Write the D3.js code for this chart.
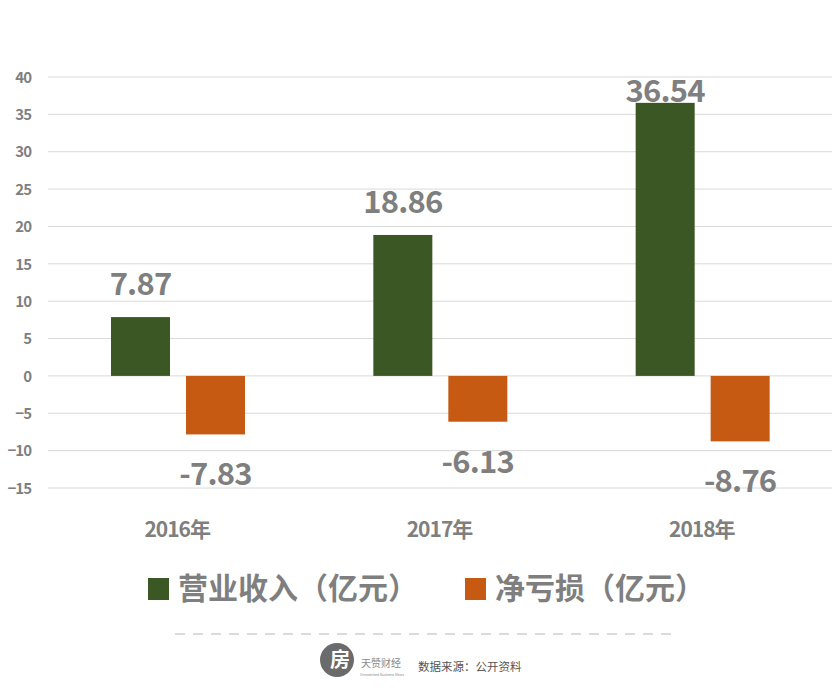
<!DOCTYPE html>
<html><head><meta charset="utf-8">
<script src="https://cdn.jsdelivr.net/npm/d3@7"></script>
<style>body{margin:0;background:#fff;} svg{display:block;}</style>
</head><body>
<script>
const categories = ["2016年", "2017年", "2018年"];
const seriesNames = ["营业收入（亿元）", "净亏损（亿元）"];
const revenue = [7.87, 18.86, 36.54];
const netLoss = [-7.83, -6.13, -8.76];
const yTicks = [40, 35, 30, 25, 20, 15, 10, 5, 0, -5, -10, -15];
const colors = ["#3b5724", "#c65a12"];

const W = 838, H = 698;
const svg = d3.select("body").append("svg").attr("width", W).attr("height", H);
const font = "'Noto Sans CJK SC','Noto Sans',sans-serif";
const gray = "#7f7f7f";

const y = d3.scaleLinear().domain([-15, 40]).range([488, 77]);
const x0 = d3.scaleBand().domain(categories).range([46, 833]).paddingInner(0).paddingOuter(0);
const x1 = d3.scaleBand().domain([0, 1]).range([65, 199]).paddingInner(0.2133);

// gridlines
svg.append("g").selectAll("line").data(yTicks).join("line")
  .attr("x1", 48).attr("x2", 832)
  .attr("y1", d => y(d)).attr("y2", d => y(d))
  .attr("stroke", "#d9d9d9").attr("stroke-width", 1);

// y axis labels
const yAxis = d3.axisLeft(y).tickValues(yTicks).tickSize(0).tickPadding(0);
const gy = svg.append("g").attr("transform", "translate(31,0)").call(yAxis);
gy.select(".domain").remove();
gy.selectAll("text").attr("font-family", font).attr("font-weight", "bold")
  .attr("font-size", 15).attr("fill", gray).attr("letter-spacing", -1).attr("dy", "0.35em");

const data = categories.map((c, i) => ({c, vals: [revenue[i], netLoss[i]]}));
const groups = svg.append("g").selectAll("g").data(data).join("g")
  .attr("transform", d => `translate(${x0(d.c)},0)`);

groups.each(function(d) {
  const g = d3.select(this);
  d.vals.forEach((v, k) => {
    const bx = x1(k);
    const bw = x1.bandwidth();
    g.append("rect").attr("x", bx).attr("width", bw)
      .attr("y", Math.min(y(v), y(0))).attr("height", Math.abs(y(v) - y(0)))
      .attr("fill", colors[k]);
    g.append("text").attr("x", bx + bw / 2)
      .attr("y", v >= 0 ? Math.max(y(v) - 22, 102) : y(v) + 51)
      .attr("text-anchor", "middle").attr("font-family", font).attr("font-weight", "bold")
      .attr("font-size", 31).attr("letter-spacing", -0.8).attr("fill", gray).text(v.toFixed(2));
  });
});

// category labels
const xAxis = d3.axisBottom(x0).tickSize(0).tickPadding(0);
const gx = svg.append("g").attr("transform", "translate(0,522)").call(xAxis);
gx.select(".domain").remove();
gx.selectAll("text").attr("font-family", font).attr("font-weight", "bold")
  .attr("font-size", 21).attr("fill", gray).attr("letter-spacing", -1).attr("dy", "0.71em");

// legend
const legendX = [148, 465];
seriesNames.forEach((n, k) => {
  svg.append("rect").attr("x", legendX[k]).attr("y", 578).attr("width", 21).attr("height", 22).attr("fill", colors[k]);
  svg.append("text").attr("x", legendX[k] + 30).attr("y", 599)
    .attr("font-family", font).attr("font-weight", "bold").attr("font-size", 30)
    .attr("fill", gray).text(n);
});

// footer
svg.append("line").attr("x1", 175).attr("x2", 672).attr("y1", 634).attr("y2", 634)
  .attr("stroke", "#b5b5b5").attr("stroke-width", 1).attr("stroke-dasharray", "10,8");
svg.append("circle").attr("cx", 337).attr("cy", 660).attr("r", 17).attr("fill", "#6b6b6b");
svg.append("text").attr("x", 340).attr("y", 667).attr("text-anchor", "middle")
  .attr("font-family", font).attr("font-weight", "bold").attr("font-size", 20).attr("fill", "#fff").text("房");
svg.append("text").attr("x", 361).attr("y", 667).attr("font-family", font)
  .attr("font-size", 10).attr("fill", "#8a8a8a").text("天赞财经");
svg.append("text").attr("x", 360).attr("y", 676).attr("font-family", font)
  .attr("font-size", 3.5).attr("fill", "#8a8a8a").text("Unmatched Business News");
svg.append("text").attr("x", 418).attr("y", 671).attr("font-family", font)
  .attr("font-size", 11.5).attr("fill", "#555").text("数据来源：公开资料");
</script>
</body></html>
